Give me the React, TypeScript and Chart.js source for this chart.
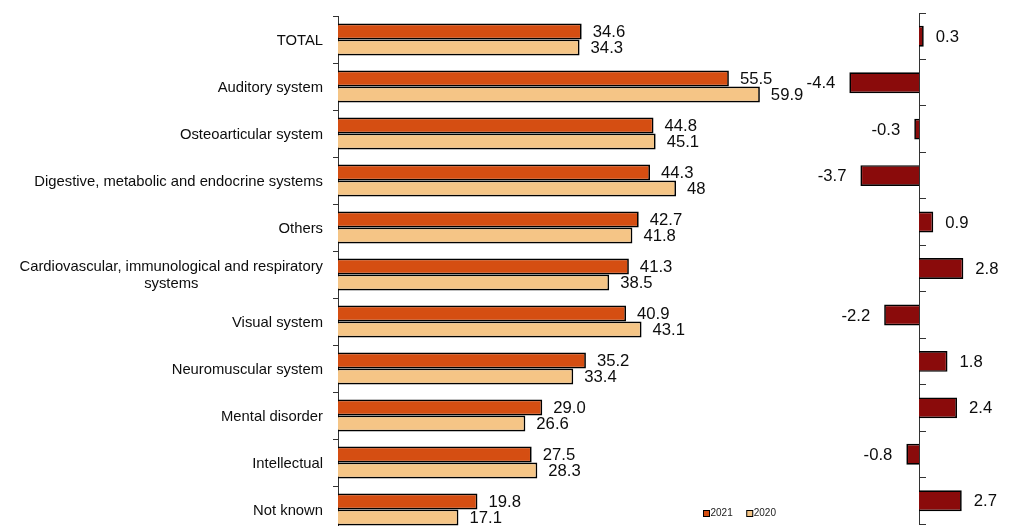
import React, { useEffect, useRef } from "react";
import { Chart, registerables } from "chart.js";

Chart.register(...registerables);

const FONT = "'Liberation Sans', Arial, sans-serif";

const categories: (string | string[])[] = [
  "TOTAL",
  "Auditory system",
  "Osteoarticular system",
  "Digestive, metabolic and endocrine systems",
  "Others",
  ["Cardiovascular, immunological and respiratory", "systems"],
  "Visual system",
  "Neuromuscular system",
  "Mental disorder",
  "Intellectual",
  "Not known",
];
const seriesNames = ["2021", "2020"];
const values2021 = ["34.6", "55.5", "44.8", "44.3", "42.7", "41.3", "40.9", "35.2", "29.0", "27.5", "19.8"];
const values2020 = ["34.3", "59.9", "45.1", "48", "41.8", "38.5", "43.1", "33.4", "26.6", "28.3", "17.1"];
const differences = ["0.3", "-4.4", "-0.3", "-3.7", "0.9", "2.8", "-2.2", "1.8", "2.4", "-0.8", "2.7"];

const COLOR_2021 = "#D54E12";
const COLOR_2020 = "#F5C586";
const COLOR_DIFF = "#8A0B0B";
const AXIS_COLOR = "#333";

function valueLabelPlugin(texts: string[][], posGap: number, negGap: number) {
  return {
    id: "valueLabels",
    afterDatasetsDraw(chart: any) {
      const ctx = chart.ctx;
      ctx.save();
      ctx.font = `16.7px ${FONT}`;
      ctx.fillStyle = "#0d0d0d";
      ctx.textBaseline = "middle";
      chart.data.datasets.forEach((ds: any, di: number) => {
        const meta = chart.getDatasetMeta(di);
        meta.data.forEach((el: any, i: number) => {
          const v = ds.data[i] as number;
          const t = texts[di][i];
          if (v >= 0) {
            ctx.textAlign = "left";
            ctx.fillText(t, el.x + posGap, el.y + 1);
          } else {
            ctx.textAlign = "right";
            ctx.fillText(t, el.x - negGap, el.y + 1);
          }
        });
      });
      ctx.restore();
    },
  };
}

const categoryLabelPlugin = {
  id: "categoryLabels",
  afterDraw(chart: any) {
    const ctx = chart.ctx;
    const scale = chart.scales.y;
    ctx.save();
    ctx.font = `14.8px ${FONT}`;
    ctx.fillStyle = "#0d0d0d";
    ctx.textBaseline = "middle";
    ctx.textAlign = "center";
    const right = chart.chartArea.left - 15;
    const lh = 17;
    categories.forEach((cat, i) => {
      const lines = Array.isArray(cat) ? cat : [cat];
      const w = Math.max(...lines.map((l) => ctx.measureText(l).width));
      const cx = right - w / 2;
      const y = scale.getPixelForValue(i);
      const startY = y - ((lines.length - 1) * lh) / 2;
      lines.forEach((l, k) => ctx.fillText(l, cx, startY + k * lh + 1));
    });
    ctx.restore();
  },
};

const legendPlugin = {
  id: "miniLegend",
  afterDraw(chart: any) {
    const ctx = chart.ctx;
    ctx.save();
    ctx.font = `10px ${FONT}`;
    ctx.textBaseline = "middle";
    ctx.textAlign = "left";
    let x = 703.5;
    const y = 513.5;
    chart.data.datasets.forEach((ds: any) => {
      ctx.fillStyle = ds.backgroundColor;
      ctx.fillRect(x, y - 3, 6, 6);
      ctx.strokeStyle = "#000";
      ctx.lineWidth = 1;
      ctx.strokeRect(x, y - 3, 6, 6);
      ctx.fillStyle = "#222";
      ctx.fillText(ds.label, x + 7, y);
      x += 7 + ctx.measureText(ds.label).width + 14;
    });
    ctx.restore();
  },
};

export default function App() {
  const leftRef = useRef<HTMLCanvasElement>(null);
  const rightRef = useRef<HTMLCanvasElement>(null);

  useEffect(() => {
    const labels = categories.map((_, i) => String(i));
    const left = new Chart(leftRef.current!, {
      type: "bar",
      data: {
        labels,
        datasets: [
          {
            label: seriesNames[0],
            data: values2021.map(Number),
            backgroundColor: COLOR_2021,
            borderColor: "#000",
            borderWidth: 1.7,
            categoryPercentage: 0.68,
            barPercentage: 1.0,
          },
          {
            label: seriesNames[1],
            data: values2020.map(Number),
            backgroundColor: COLOR_2020,
            borderColor: "#000",
            borderWidth: 1.7,
            categoryPercentage: 0.68,
            barPercentage: 1.0,
          },
        ],
      },
      options: {
        indexAxis: "y",
        responsive: false,
        animation: false,
        layout: { padding: { left: 333, top: 16, bottom: 7, right: 0 } },
        plugins: { legend: { display: false }, tooltip: { enabled: false } },
        scales: {
          x: { display: false, min: 0, max: 70 },
          y: {
            offset: true,
            ticks: { display: false },
            grid: {
              display: true,
              offset: true,
              drawOnChartArea: false,
              drawTicks: true,
              tickLength: 5,
              color: AXIS_COLOR,
              lineWidth: 1,
            },
            border: { display: true, color: AXIS_COLOR, width: 1 },
          },
        },
      },
      plugins: [
        valueLabelPlugin([values2021, values2020], 11, 11),
        categoryLabelPlugin,
        legendPlugin,
      ],
    } as any);

    const right = new Chart(rightRef.current!, {
      type: "bar",
      data: {
        labels,
        datasets: [
          {
            label: "diff",
            data: differences.map(Number),
            backgroundColor: COLOR_DIFF,
            borderColor: "#000",
            borderWidth: 1.7,
            categoryPercentage: 0.45,
            barPercentage: 1.0,
          },
        ],
      },
      options: {
        indexAxis: "y",
        responsive: false,
        animation: false,
        layout: { padding: { left: 44, top: 13, bottom: 2, right: 7 } },
        plugins: { legend: { display: false }, tooltip: { enabled: false } },
        scales: {
          x: { display: false, min: -6, max: 6 },
          y: {
            position: { x: 0 },
            offset: true,
            ticks: { display: false },
            grid: {
              display: true,
              offset: true,
              drawOnChartArea: false,
              drawTicks: true,
              tickLength: -7,
              color: AXIS_COLOR,
              lineWidth: 1,
            },
            border: { display: true, color: AXIS_COLOR, width: 1 },
          },
        },
      },
      plugins: [valueLabelPlugin([differences], 12, 14)],
    } as any);

    return () => {
      left.destroy();
      right.destroy();
    };
  }, []);

  return (
    <div
      style={{
        position: "fixed",
        top: 0,
        left: 0,
        width: 1021,
        height: 526,
        overflow: "hidden",
        background: "#fff",
      }}
    >
      <canvas
        ref={leftRef}
        width={831}
        height={540}
        style={{ position: "absolute", left: 0, top: 0, width: 831, height: 540 }}
      />
      <canvas
        ref={rightRef}
        width={241}
        height={526}
        style={{ position: "absolute", left: 780, top: 0, width: 241, height: 526 }}
      />
    </div>
  );
}
